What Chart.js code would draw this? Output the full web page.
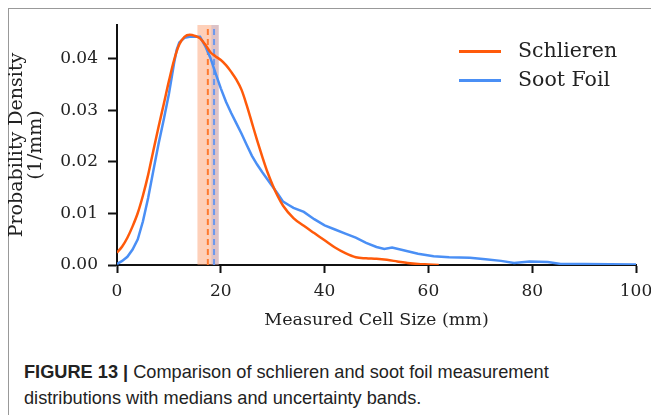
<!DOCTYPE html>
<html>
<head>
<meta charset="utf-8">
<script src="https://cdn.jsdelivr.net/npm/chart.js@4.4.0/dist/chart.umd.min.js"></script>
<style>
  body { margin: 0; background: #fff; }
  #wrap { position: relative; width: 651px; height: 415px; overflow: hidden; }
  #frame { position: absolute; left: 8px; top: 8px; right: 0; bottom: 0; border-left: 1px solid #999; border-top: 1px solid #999; }
  #chartBox { position: absolute; left: 0; top: 0; width: 690px; height: 335px; }
  .legend { position: absolute; left: 459px; font-family: "DejaVu Serif", serif; font-size: 20.5px; color: #222; }
  .legend span.ln { display: inline-block; width: 42px; height: 3px; vertical-align: middle; margin-right: 17px; }
  #caption { position: absolute; left: 24px; top: 359px; font-family: "Liberation Sans", Arial, sans-serif; font-size: 18.2px; line-height: 26px; color: #222; }
</style>
</head>
<body>
<div id="wrap">
  <div id="frame"></div>
  <div id="chartBox"><canvas id="myChart" width="690" height="335"></canvas></div>
  <div class="legend" style="top:38px"><span class="ln" style="background:#ff5a0a"></span>Schlieren</div>
  <div class="legend" style="top:67px"><span class="ln" style="background:#4a8ff5"></span>Soot Foil</div>
  <div id="caption"><b>FIGURE 13 |</b> Comparison of schlieren and soot foil measurement<br>distributions with medians and uncertainty bands.</div>
</div>
<script>
// DATOS
const schlierenX = [0,1,2,3,4,5,6,7,8,9,10,11,12,13,14,15,16,17,18,19,20,21,22,23,24,25,26,27,28,29,30,31,32,34,36,38,40,42,44,46,48,50,52,54,56,58,60,62];
const schlierenY = [0.0024,0.0036,0.0053,0.0075,0.0101,0.0135,0.0175,0.0222,0.0268,0.0312,0.0357,0.0398,0.0428,0.0443,0.0447,0.0445,0.0440,0.0428,0.0413,0.0405,0.0398,0.0388,0.0375,0.0360,0.0340,0.0310,0.0276,0.0242,0.0210,0.0180,0.0155,0.0133,0.0115,0.0091,0.0076,0.0062,0.0048,0.0034,0.0023,0.0015,0.0013,0.0012,0.0010,0.0007,0.0004,0.0002,0.0001,0];

const sootX = [0,1,2,3,4,5,6,7,8,9,10,11,11.5,12,13,14,16,17,18,19,20,21,22,23,24,25,26,27,28,29,30,31,32,33,34,36,38,40,42,44,46,48,50,51.5,53,55,58,61,64,68,71,74,76.5,79.5,83,85.5,90,100];
const sootY = [0.0002,0.0008,0.0016,0.0030,0.0050,0.0085,0.0130,0.0183,0.0235,0.0282,0.0332,0.0392,0.0418,0.0432,0.0441,0.0443,0.0443,0.0425,0.0402,0.0372,0.0343,0.0317,0.0295,0.0275,0.0255,0.0233,0.0212,0.0195,0.0180,0.0166,0.0152,0.0138,0.0123,0.0117,0.0111,0.0103,0.0089,0.0077,0.0069,0.0061,0.0053,0.0043,0.0035,0.0031,0.0034,0.0029,0.0022,0.0017,0.0015,0.0014,0.0011,0.0008,0.0004,0.0007,0.0006,0.0002,0.0002,0.0001];

// medianas y bandas de incertidumbre [min, max]
const medians = [17.5, 18.7];
const bands = [[15.5, 19.6], [18.2, 19.6]];

const xTicks = [0, 20, 40, 60, 80, 100];
const yTicks = [0, 0.01, 0.02, 0.03, 0.04];
const yTop = 0.0466;

const orange = "#ff5a0a";
const blue = "#4a8ff5";

function toPoints(xs, ys) {
  return xs.map((x, i) => ({ x: x, y: ys[i] }));
}

function medianLine(x, color) {
  return {
    data: [{ x: x, y: 0 }, { x: x, y: yTop }],
    borderColor: color,
    borderWidth: 2,
    borderDash: [6, 4],
    pointRadius: 0,
    showLine: true,
  };
}

// plugin para dibujar las bandas detras de las curvas
const bandPlugin = {
  id: "bands",
  beforeDatasetsDraw(chart) {
    const ctx = chart.ctx;
    const xs = chart.scales.x;
    const ys = chart.scales.y;
    const fills = ["rgba(253,150,100,0.45)", "rgba(120,150,245,0.25)"];
    bands.forEach((b, i) => {
      const x0 = xs.getPixelForValue(b[0]);
      const x1 = xs.getPixelForValue(b[1]);
      const top = ys.getPixelForValue(yTop);
      const bottom = ys.getPixelForValue(0);
      ctx.save();
      ctx.fillStyle = fills[i];
      ctx.fillRect(x0, top, x1 - x0, bottom - top);
      ctx.restore();
    });
  },
};

const tickFont = { family: "DejaVu Serif", size: 17 };

new Chart(document.getElementById("myChart"), {
  type: "scatter",
  data: {
    datasets: [
      {
        label: "Schlieren",
        data: toPoints(schlierenX, schlierenY),
        borderColor: orange,
        borderWidth: 2.5,
        pointRadius: 0,
        showLine: true,
        cubicInterpolationMode: "monotone",
      },
      {
        label: "Soot Foil",
        data: toPoints(sootX, sootY),
        borderColor: blue,
        borderWidth: 2.5,
        pointRadius: 0,
        showLine: true,
        tension: 0,
      },
      medianLine(medians[0], "#ff7a30"),
      medianLine(medians[1], "#6a98ee"),
    ],
  },
  options: {
    responsive: false,
    animation: false,
    layout: { padding: { left: 0, top: 25, right: 54, bottom: 0 } },
    plugins: { legend: { display: false }, tooltip: { enabled: false } },
    scales: {
      x: {
        type: "linear",
        min: 0,
        max: 100,
        afterFit: (s) => { s.height = 70; },
        afterBuildTicks: (s) => { s.ticks = xTicks.map((v) => ({ value: v })); },
        grid: { drawOnChartArea: false, tickLength: 8, tickColor: "#111", tickWidth: 2 },
        border: { color: "#111", width: 2 },
        ticks: { font: tickFont, color: "#222", padding: 8 },
        title: { display: true, text: "Measured Cell Size (mm)", font: { family: "DejaVu Serif", size: 17.5 }, color: "#222", padding: { top: 0 } },
      },
      y: {
        min: 0,
        max: yTop,
        afterFit: (s) => { s.width = 117; },
        afterBuildTicks: (s) => { s.ticks = yTicks.map((v) => ({ value: v })); },
        grid: { drawOnChartArea: false, tickLength: 9, tickColor: "#111", tickWidth: 2 },
        border: { color: "#111", width: 2 },
        ticks: { font: tickFont, color: "#222", padding: 10, callback: (v) => v.toFixed(2) },
        title: { display: true, text: ["Probability Density", "(1/mm)"], font: { family: "DejaVu Serif", size: 19, lineHeight: 1.0 }, color: "#222", padding: { top: 8, bottom: 0 } },
      },
    },
  },
  plugins: [bandPlugin],
});
</script>
</body>
</html>
